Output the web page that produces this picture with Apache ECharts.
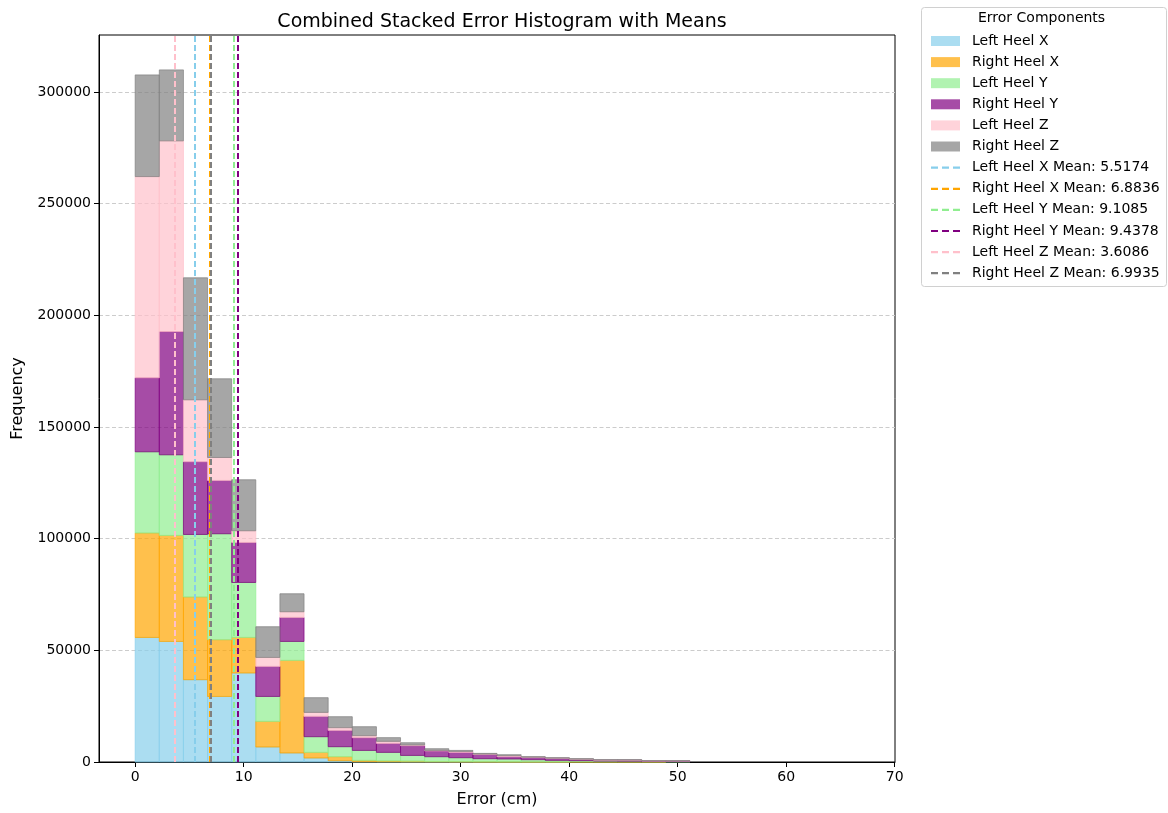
<!DOCTYPE html>
<html>
<head>
<meta charset="utf-8">
<script src="https://cdn.jsdelivr.net/npm/echarts@6/dist/echarts.min.js"></script>
<style>
  html, body { margin: 0; padding: 0; background: #fff; }
  #chart { width: 1168px; height: 813px; }
</style>
</head>
<body>
<div id="chart"></div>
<script>
// histogram bins: 30 bins from 0 to ~66.7 cm
const binWidth = 2.2233;

const seriesNames = ['Left Heel X', 'Right Heel X', 'Left Heel Y', 'Right Heel Y', 'Left Heel Z', 'Right Heel Z'];

// counts per bin
const leftHeelX = [55770, 53980, 36840, 29360, 39840, 6710, 4030, 1790, 580, 130, 100, 50, 30, 20, 10, 10, 5, 5, 0, 0, 0, 0, 0, 0, 0, 0, 0, 0, 0, 0];
const rightHeelX = [46730, 47450, 37020, 25380, 15930, 11460, 41450, 2510, 1790, 580, 360, 300, 200, 150, 100, 60, 40, 30, 20, 10, 10, 5, 0, 0, 0, 0, 0, 0, 0, 0];
const leftHeelY = [36390, 36120, 28020, 47450, 24620, 11190, 8500, 7030, 4480, 4480, 3850, 2600, 2140, 1750, 1370, 1270, 990, 690, 580, 400, 350, 200, 180, 0, 0, 0, 0, 0, 0, 0];
const rightHeelY = [33120, 55190, 32540, 23860, 17900, 13430, 10740, 9090, 7300, 5680, 4030, 4340, 2550, 2370, 1920, 1030, 1030, 900, 580, 400, 450, 250, 270, 0, 0, 0, 0, 0, 0, 0];
const leftHeelZ = [90100, 85360, 27750, 10290, 5240, 4030, 2550, 1790, 1210, 900, 900, 310, 270, 450, 150, 450, 100, 100, 100, 80, 80, 40, 40, 0, 0, 0, 0, 0, 0, 0];
const rightHeelZ = [45520, 31780, 54610, 35230, 22830, 13740, 8060, 6580, 4920, 4030, 1660, 1030, 760, 450, 300, 450, 210, 200, 220, 150, 150, 90, 90, 0, 0, 0, 0, 0, 0, 0];

const means = [5.5174, 6.8836, 9.1085, 9.4378, 3.6086, 6.9935];

const xTicks = [0, 10, 20, 30, 40, 50, 60, 70];
const yTicks = [0, 50000, 100000, 150000, 200000, 250000, 300000];

const stacks = [leftHeelX, rightHeelX, leftHeelY, rightHeelY, leftHeelZ, rightHeelZ];
const fills = ['rgba(135,206,235,0.7)', 'rgba(255,165,0,0.7)', 'rgba(144,238,144,0.7)',
               'rgba(128,0,128,0.7)', 'rgba(255,192,203,0.7)', 'rgba(128,128,128,0.7)'];
const lineColors = ['#87ceeb', '#ffa500', '#90ee90', '#800080', '#ffc0cb', '#808080'];

const FONT = 'DejaVu Sans';

// three short dashes, padded to a 29x10 box so the legend does not stretch them
const dashIcon = 'path://M0,0h0.01v0.01h-0.01z M0,4h7v2.2h-7z M11,4h7v2.2h-7z M22,4h7v2.2h-7z M28.99,9.99h0.01v0.01h-0.01z';

function makeRender(k) {
  return function (params, api) {
    const i = api.value(0);
    const v = api.value(1);
    if (!(v > 0)) return null;
    let base = 0;
    for (let j = 0; j < k; j++) base += stacks[j][i];
    const p0 = api.coord([i * binWidth, base + v]);
    const p1 = api.coord([(i + 1) * binWidth, base]);
    return {
      type: 'rect',
      shape: { x: p0[0], y: p0[1], width: p1[0] - p0[0], height: p1[1] - p0[1] },
      style: { fill: fills[k], stroke: fills[k], lineWidth: 1 }
    };
  };
}

const histSeries = stacks.map((arr, k) => ({
  name: seriesNames[k],
  type: 'custom',
  renderItem: makeRender(k),
  encode: { x: 0, y: 1 },
  itemStyle: { color: fills[k] },
  data: arr.map((v, i) => [i, v]),
  z: 2
}));

const meanSeries = means.map((m, k) => ({
  name: seriesNames[k] + ' Mean: ' + m.toFixed(4),
  type: 'line',
  data: [],
  symbol: 'none',
  lineStyle: { color: lineColors[k], width: 2, type: [6, 3] },
  itemStyle: { color: lineColors[k] },
  z: 5 + k * 0.1,
  markLine: {
    silent: true,
    symbol: ['none', 'none'],
    label: { show: false },
    lineStyle: { color: lineColors[k], width: 2, type: [6, 3] },
    data: [{ xAxis: m }]
  }
}));

const chart = echarts.init(document.getElementById('chart'), null, { renderer: 'canvas' });

chart.setOption({
  backgroundColor: '#fff',
  animation: false,
  title: {
    text: 'Combined Stacked Error Histogram with Means',
    left: 497,
    top: 8,
    textAlign: 'center',
    textStyle: { fontFamily: FONT, fontSize: 19, fontWeight: 'normal', color: '#000' }
  },
  grid: {
    left: 99, right: 273, top: 35, bottom: 51,
    show: true, borderColor: '#000', borderWidth: 1, backgroundColor: 'transparent'
  },
  xAxis: {
    type: 'value',
    min: -3.335,
    max: 70.03,
    name: 'Error (cm)',
    nameLocation: 'middle',
    nameGap: 30,
    nameTextStyle: { fontFamily: FONT, fontSize: 16, color: '#000' },
    axisLine: { show: true, onZero: false, lineStyle: { color: '#000', width: 1 } },
    axisTick: { show: true, length: 5, lineStyle: { color: '#000' }, customValues: xTicks },
    axisLabel: { fontFamily: FONT, fontSize: 14, color: '#000', margin: 8, customValues: xTicks },
    splitLine: { show: false }
  },
  yAxis: {
    type: 'value',
    min: 0,
    max: 325500,
    name: 'Frequency',
    nameLocation: 'middle',
    nameGap: 73,
    nameTextStyle: { fontFamily: FONT, fontSize: 16, color: '#000' },
    axisLine: { show: true, onZero: false, lineStyle: { color: '#000', width: 1 } },
    axisTick: { show: true, length: 5, lineStyle: { color: '#000' }, customValues: yTicks },
    axisLabel: {
      fontFamily: FONT, fontSize: 14, color: '#000', margin: 8, customValues: yTicks,
      formatter: v => String(v)
    },
    splitLine: { show: true, lineStyle: { color: '#cccccc', width: 1, type: [4, 2.5] } }
  },
  legend: {
    orient: 'vertical',
    left: 926,
    top: 28,
    itemWidth: 29,
    itemHeight: 10,
    itemGap: 5.1,
    selectedMode: false,
    textStyle: { fontFamily: FONT, fontSize: 14, color: '#000', lineHeight: 16, padding: [0, 0, 0, 7] },
    data: seriesNames.map(n => ({ name: n, icon: 'rect' }))
      .concat(meanSeries.map(s => ({ name: s.name, icon: dashIcon })))
  },
  graphic: [
    {
      type: 'rect',
      left: 921, top: 7,
      shape: { width: 245, height: 279, r: 3 },
      style: { fill: '#fff', stroke: '#d0d0d0', lineWidth: 1 },
      z: -1
    },
    {
      type: 'text',
      left: 978, top: 11,
      style: { text: 'Error Components', font: '14px "DejaVu Sans"', fill: '#000' }
    }
  ],
  series: histSeries.concat(meanSeries)
});
</script>
</body>
</html>
